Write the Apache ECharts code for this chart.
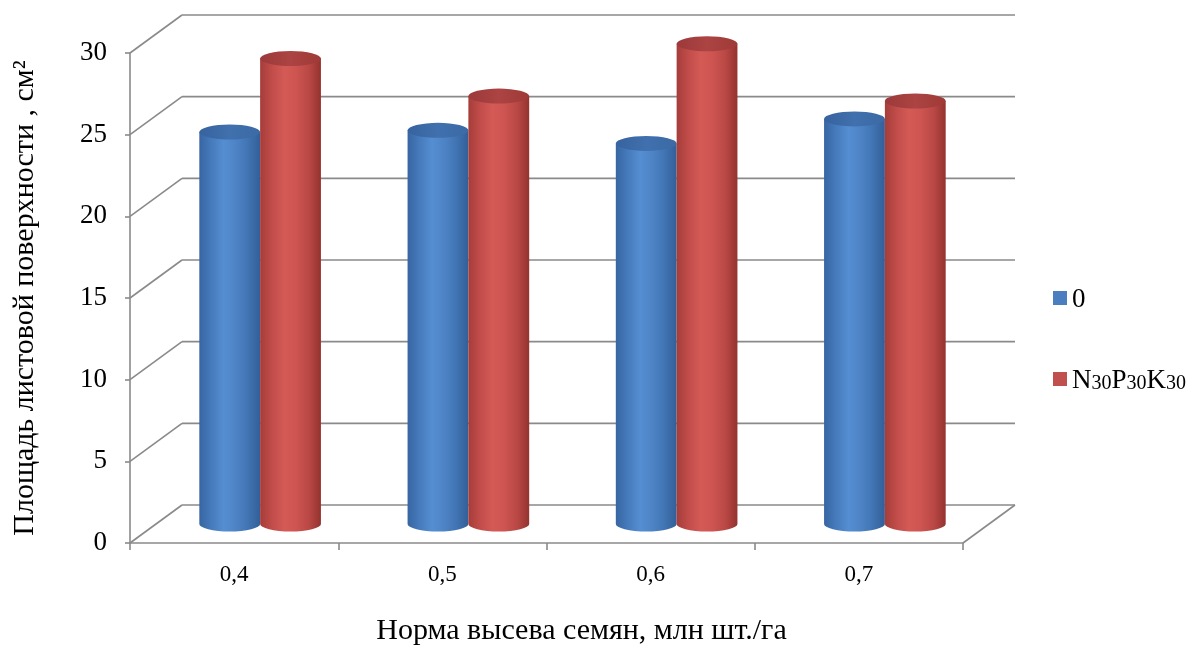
<!DOCTYPE html>
<html>
<head>
<meta charset="utf-8">
<script src="https://cdn.jsdelivr.net/npm/echarts@6/dist/echarts.min.js"></script>
<style>
  html, body { margin: 0; padding: 0; background: #ffffff; }
  #chart { width: 1198px; height: 651px; }
</style>
</head>
<body>
<div id="chart"></div>
<script>
// Seeding rate categories (million seeds per hectare)
const categories = ['0,4', '0,5', '0,6', '0,7'];
// Leaf surface area, cm², without fertilizer
const seriesZero = [24.0, 24.1, 23.3, 24.8];
// Leaf surface area, cm², with N30P30K30
const seriesNPK = [28.5, 26.2, 29.4, 25.9];
// Value axis ticks
const yTicks = [0, 5, 10, 15, 20, 25, 30];

const FONT = '"Liberation Serif", "Times New Roman", serif';
const GRID_COLOR = '#8a8a8a';
// Oblique projection of the chart depth (pixels)
const DEPTH_X = 52, DEPTH_Y = -38;
const MID_X = DEPTH_X / 2, MID_Y = DEPTH_Y / 2;
const RY = 7.5;

const palettes = [
  {
    body: ['#3765a2', '#467bbc', '#558ed2', '#4e84c6', '#4174b3', '#335f98'],
    top: ['#3763a0', '#4070ad', '#3b6aa6']
  },
  {
    body: ['#a53d3a', '#c24d4a', '#d45a56', '#cd5450', '#ba4845', '#94332f'],
    top: ['#9d393b', '#ab4442', '#9f3a37']
  }
];

function gradient(colors) {
  const n = colors.length - 1;
  return {
    type: 'linear', x: 0, y: 0, x2: 1, y2: 0,
    colorStops: colors.map((c, i) => ({ offset: i / n, color: c }))
  };
}

// Back wall and left side wall gridlines, plus the floor outline
function wallsRender(params, api) {
  const cs = params.coordSys;
  const v = api.value(1);
  const y = api.coord([0, v])[1];
  const x0 = cs.x, x1 = cs.x + cs.width;
  const style = { stroke: GRID_COLOR, lineWidth: 1.6 };
  const children = [
    { type: 'line', shape: { x1: x0, y1: y, x2: x0 + DEPTH_X, y2: y + DEPTH_Y }, style },
    { type: 'line', shape: { x1: x0 + DEPTH_X, y1: y + DEPTH_Y, x2: x1 + DEPTH_X, y2: y + DEPTH_Y }, style }
  ];
  if (v === 0) {
    children.push({ type: 'line', shape: { x1: x1, y1: y, x2: x1 + DEPTH_X, y2: y + DEPTH_Y }, style });
  }
  return { type: 'group', children };
}

// Shaded cylinder standing at mid-depth of the chart floor
function cylinderRender(seriesIdx) {
  return function (params, api) {
    const idx = api.value(0);
    const val = api.value(1);
    const top = api.coord([idx, val]);
    const base = api.coord([idx, 0]);
    const band = api.size([1, 0])[0];
    const rx = band * 0.146;
    const cx = top[0] + MID_X + (seriesIdx === 0 ? -rx : rx);
    const yt = top[1] + MID_Y;
    const yb = base[1] + MID_Y;
    const xl = cx - rx, xr = cx + rx;
    const pal = palettes[seriesIdx];
    const bodyPath = `M ${xl} ${yt} L ${xl} ${yb} A ${rx} ${RY} 0 0 0 ${xr} ${yb} L ${xr} ${yt} Z`;
    const topPath = `M ${xl} ${yt} A ${rx} ${RY} 0 1 0 ${xr} ${yt} A ${rx} ${RY} 0 1 0 ${xl} ${yt} Z`;
    return {
      type: 'group',
      children: [
        { type: 'path', shape: { pathData: bodyPath }, style: { fill: gradient(pal.body) } },
        { type: 'path', shape: { pathData: topPath }, style: { fill: gradient(pal.top) } }
      ]
    };
  };
}

const chart = echarts.init(document.getElementById('chart'), null, { renderer: 'canvas' });

chart.setOption({
  backgroundColor: '#ffffff',
  animation: false,
  grid: { left: 130, right: 235, top: 53, bottom: 106 },
  legend: {
    orient: 'vertical',
    left: 1048,
    top: 281,
    itemWidth: 14,
    itemHeight: 14,
    itemGap: 54,
    icon: 'rect',
    data: [
      { name: '0', itemStyle: { color: '#4a7ebf' } },
      { name: 'NPK', itemStyle: { color: '#c0504d' } }
    ],
    formatter: function (name) {
      if (name === 'NPK') return '{n|N}{s|30}{n|P}{s|30}{n|K}{s|30}';
      return '{n|' + name + '}';
    },
    textStyle: {
      color: '#000',
      fontFamily: FONT,
      rich: {
        n: { fontSize: 27, lineHeight: 30, fontFamily: FONT, color: '#000', verticalAlign: 'bottom' },
        s: { fontSize: 20, lineHeight: 20, fontFamily: FONT, color: '#000', verticalAlign: 'bottom' }
      }
    }
  },
  xAxis: {
    type: 'category',
    data: categories,
    boundaryGap: true,
    name: 'Норма высева семян, млн шт./га',
    nameLocation: 'middle',
    nameGap: 73,
    nameTextStyle: { fontFamily: FONT, fontSize: 30, color: '#000', padding: [0, 0, 0, 70] },
    axisLine: { show: true, lineStyle: { color: GRID_COLOR, width: 1.6 } },
    axisTick: { show: true, length: 7, lineStyle: { color: GRID_COLOR, width: 1.6 } },
    axisLabel: { fontFamily: FONT, fontSize: 23, color: '#000', margin: 20 },
    splitLine: { show: false }
  },
  yAxis: {
    type: 'value',
    min: 0,
    max: 30,
    interval: 5,
    name: 'Площадь листовой поверхности , см²',
    nameLocation: 'middle',
    nameRotate: 90,
    nameGap: 90,
    nameTextStyle: { fontFamily: FONT, fontSize: 30, color: '#000' },
    axisLine: { show: true, lineStyle: { color: GRID_COLOR, width: 1.6 } },
    axisTick: { show: true, length: 5, lineStyle: { color: GRID_COLOR, width: 1.6 } },
    axisLabel: { fontFamily: FONT, fontSize: 27, color: '#000', margin: 23 },
    splitLine: { show: false }
  },
  series: [
    {
      name: 'walls',
      type: 'custom',
      silent: true,
      z: 1,
      renderItem: wallsRender,
      encode: { x: 0, y: 1 },
      data: yTicks.map(v => [0, v])
    },
    {
      name: '0',
      type: 'custom',
      z: 3,
      renderItem: cylinderRender(0),
      encode: { x: 0, y: 1 },
      itemStyle: { color: '#4a7ebf' },
      data: seriesZero.map((v, i) => [i, v])
    },
    {
      name: 'NPK',
      type: 'custom',
      z: 4,
      renderItem: cylinderRender(1),
      encode: { x: 0, y: 1 },
      itemStyle: { color: '#c0504d' },
      data: seriesNPK.map((v, i) => [i, v])
    }
  ]
});
</script>
</body>
</html>
